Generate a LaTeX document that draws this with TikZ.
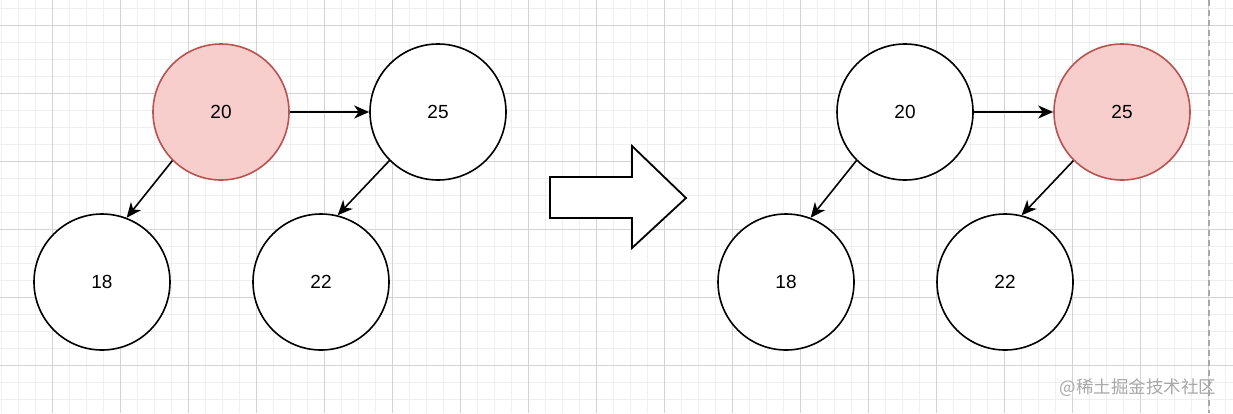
\documentclass[tikz,border=0pt]{standalone}
\usepackage{fontspec}
\setmainfont{Liberation Sans}
\newfontfamily\cjk{Noto Sans CJK SC}
\usetikzlibrary{arrows.meta}
\definecolor{pinkfill}{HTML}{F8CECC}
\definecolor{pinkdraw}{HTML}{B85450}
\definecolor{minorgrid}{HTML}{EFEFEF}
\definecolor{majorgrid}{HTML}{D3D3D3}
\definecolor{wmgray}{HTML}{A8A8A8}
\tikzset{
  treenode/.style={circle, draw=black, fill=white, line width=1.6pt, minimum size=136pt, inner sep=0pt, font=\fontsize{19}{22}\selectfont},
  hotnode/.style={treenode, draw=pinkdraw, fill=pinkfill},
  edge/.style={line width=1.6pt, -{Stealth[length=15pt,width=13pt,inset=4.5pt]}},
  bigarrow/.style={draw=black, fill=white, line width=1.8pt, line join=miter},
}
\begin{document}
\begin{tikzpicture}[x=1pt,y=-1pt]
\useasboundingbox (0,0) rectangle (1233,413);
\fill[white] (0,0) rectangle (1233,413);
% grid
\foreach \i in {0,...,72} \draw[minorgrid, line width=1pt] ({1+17*\i},0) -- ({1+17*\i},413);
\foreach \j in {0,...,24} \draw[minorgrid, line width=1pt] (0,{8+17*\j}) -- (1233,{8+17*\j});
\foreach \i in {0,...,17} \draw[majorgrid, line width=1pt] ({52+68*\i},0) -- ({52+68*\i},413);
\foreach \j in {0,...,5} \draw[majorgrid, line width=1pt] (0,{25+68*\j}) -- (1233,{25+68*\j});
\draw[wmgray, dashed, dash pattern=on 6pt off 4pt, line width=1.2pt] (1209,0) -- (1209,413);

% left tree
\node[hotnode] (a20) at (221,112) {20};
\node[treenode] (a25) at (438,112) {25};
\node[treenode] (a18) at (102,282) {18};
\node[treenode] (a22) at (321,282) {22};
\draw[edge] (a20) -- (a25);
\draw[edge] (a20.225) -- (a18.69);
\draw[edge] (a25.225) -- (a22.76);

% big arrow
\draw[bigarrow] (550,177) -- (632,177) -- (632,146) -- (686,198) -- (632,248) -- (632,218) -- (550,218) -- cycle;

% right tree
\node[treenode] (b20) at (905,112) {20};
\node[hotnode] (b25) at (1122,112) {25};
\node[treenode] (b18) at (786,282) {18};
\node[treenode] (b22) at (1005,282) {22};
\draw[edge] (b20) -- (b25);
\draw[edge] (b20.225) -- (b18.69);
\draw[edge] (b25.225) -- (b22.76);

% watermark
\node[text=wmgray, font=\cjk\fontsize{17.5}{20}\selectfont, inner sep=0pt] (wm) at (1138,388) {@稀土掘金技术社区};
\end{tikzpicture}
\end{document}
